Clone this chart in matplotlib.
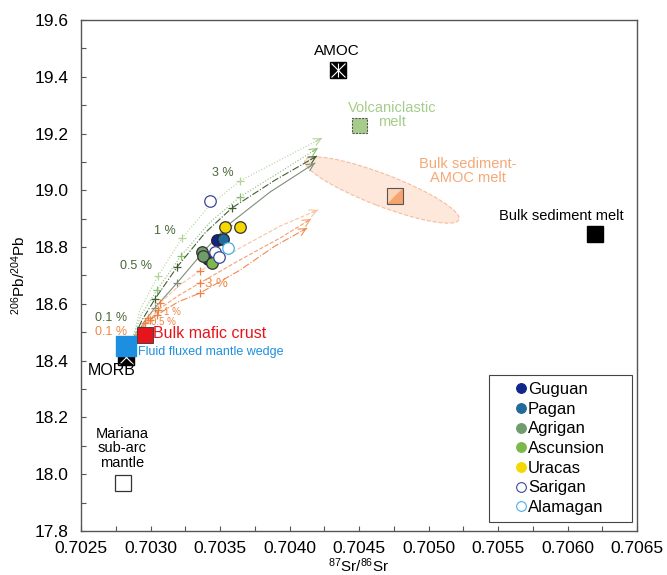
import matplotlib
matplotlib.use('Agg')
import matplotlib.pyplot as plt
import matplotlib.transforms as mtransforms
from matplotlib.patches import Ellipse, Rectangle, Polygon
from matplotlib.lines import Line2D

plt.rcParams['font.family'] = ['Liberation Sans', 'DejaVu Sans']
plt.rcParams['mathtext.fontset'] = 'custom'
plt.rcParams['mathtext.rm'] = 'Liberation Sans'
plt.rcParams['mathtext.it'] = 'Liberation Sans:italic'

# ---- island samples: 87Sr/86Sr and 206Pb/204Pb ----
island_names = ['Guguan', 'Pagan', 'Agrigan', 'Ascunsion', 'Uracas', 'Sarigan', 'Alamagan']
island_sr = [
    [0.703481, 0.703416],
    [0.703524],
    [0.703373, 0.703375],
    [0.703442],
    [0.703538, 0.703645],
    [0.703428, 0.703464, 0.703495],
    [0.703560],
]
island_pb = [
    [18.825, 18.757],
    [18.827],
    [18.784, 18.769],
    [18.745],
    [18.872, 18.872],
    [18.962, 18.782, 18.766],
    [18.798],
]
island_face = ['#10268c', '#236a9c', '#6f9c6a', '#7cb84a', '#f6d800', 'white', 'white']
island_edge = ['#222222', '#222222', '#333333', '#333333', '#333333', '#3a4898', '#48b0e2']

# ---- end-members ----
amoc = (0.704349, 19.424)
volc_melt = (0.704507, 19.227)
sed_amoc_melt = (0.704759, 18.980)
sed_melt = (0.706198, 18.846)
mafic_crust = (0.702957, 18.490)
mantle_wedge = (0.702827, 18.450)
morb = (0.702824, 18.413)
subarc_mantle = (0.702799, 17.969)

# ---- mixing curves (+ marks at 0.5, 1, 3 %) ----
green_sr = [
    [0.702874, 0.702924, 0.703054, 0.703227, 0.703428, 0.703644, 0.703932, 0.704234],
    [0.702874, 0.702932, 0.703047, 0.703219, 0.703428, 0.703644, 0.703932, 0.704205],
    [0.702881, 0.702939, 0.703032, 0.703191, 0.703392, 0.703586, 0.703896, 0.704198],
    [0.702888, 0.702953, 0.703032, 0.703191, 0.703392, 0.703558, 0.703860, 0.704183],
]
green_pb = [
    [18.480, 18.579, 18.698, 18.832, 18.948, 19.033, 19.107, 19.184],
    [18.480, 18.561, 18.649, 18.769, 18.888, 18.977, 19.065, 19.149],
    [18.480, 18.543, 18.617, 18.730, 18.850, 18.938, 19.036, 19.121],
    [18.480, 18.536, 18.586, 18.674, 18.790, 18.878, 18.994, 19.096],
]
green_colors = ['#b3d49b', '#8cbd72', '#3f5f32', '#7d8f7a']
green_styles = [':', ':', '-.', '-']
green_marks = [2, 3, 5]

orange_sr = [
    [0.702888, 0.702982, 0.703068, 0.703212, 0.703356, 0.703644, 0.703932, 0.704205],
    [0.702888, 0.702996, 0.703054, 0.703198, 0.703356, 0.703644, 0.703932, 0.704155],
    [0.702896, 0.702960, 0.703047, 0.703198, 0.703356, 0.703644, 0.703896, 0.704126],
]
orange_pb = [
    [18.490, 18.550, 18.603, 18.667, 18.716, 18.797, 18.874, 18.931],
    [18.487, 18.543, 18.579, 18.628, 18.674, 18.755, 18.832, 18.899],
    [18.483, 18.533, 18.561, 18.607, 18.638, 18.719, 18.804, 18.867],
]
orange_colors = ['#f9c3a0', '#f4a070', '#f08a50']
orange_styles = ['--', '--', '-.']
orange_marks = [1, 2, 4]

x_ticks = [0.7025, 0.7030, 0.7035, 0.7040, 0.7045, 0.7050, 0.7055, 0.7060, 0.7065]
y_ticks = [17.8, 18.0, 18.2, 18.4, 18.6, 18.8, 19.0, 19.2, 19.4, 19.6]

fig = plt.figure(figsize=(6.67, 5.75), dpi=100)
ax = fig.add_axes([81 / 667, 1 - 531 / 575, 556 / 667, 511 / 575])
ax.set_xlim(0.7025, 0.7065)
ax.set_ylim(17.8, 19.6)


def pt_transform(x, y):
    # shape sized in points, anchored on a data position
    return mtransforms.Affine2D().scale(fig.dpi / 72) + mtransforms.ScaledTranslation(x, y, ax.transData)


# mixing curves
for sr, pb, c, ls in zip(green_sr, green_pb, green_colors, green_styles):
    ax.plot(sr, pb, color=c, ls=ls, lw=0.8, marker='+', markevery=green_marks,
            ms=6, mew=0.9, zorder=2)
    x0 = sr[-2] + 0.85 * (sr[-1] - sr[-2])
    y0 = pb[-2] + 0.85 * (pb[-1] - pb[-2])
    ax.annotate('', xy=(sr[-1], pb[-1]), xytext=(x0, y0),
                arrowprops=dict(arrowstyle='->', color=c, lw=0.8, mutation_scale=13,
                                shrinkA=0, shrinkB=0), zorder=2)
for sr, pb, c, ls in zip(orange_sr, orange_pb, orange_colors, orange_styles):
    ax.plot(sr, pb, color=c, ls=ls, lw=0.8, marker='+', markevery=orange_marks,
            ms=6, mew=0.9, mec='#f07f40', zorder=2)
    x0 = sr[-2] + 0.85 * (sr[-1] - sr[-2])
    y0 = pb[-2] + 0.85 * (pb[-1] - pb[-2])
    ax.annotate('', xy=(sr[-1], pb[-1]), xytext=(x0, y0),
                arrowprops=dict(arrowstyle='->', color=c, lw=0.8, mutation_scale=13,
                                shrinkA=0, shrinkB=0), zorder=2)

# percent labels
green_txt = '#4a6638'
orange_txt = '#ef8646'
ax.text(0.702716, 18.550, '0.1 %', color=green_txt, fontsize=9, ha='center', va='center')
ax.text(0.702896, 18.733, '0.5 %', color=green_txt, fontsize=9, ha='center', va='center')
ax.text(0.703104, 18.857, '1 %', color=green_txt, fontsize=9, ha='center', va='center')
ax.text(0.703522, 19.061, '3 %', color=green_txt, fontsize=9, ha='center', va='center')
ax.text(0.702716, 18.501, '0.1 %', color=orange_txt, fontsize=9, ha='center', va='center')
ax.text(0.703090, 18.536, '0.5 %', color=orange_txt, fontsize=7, ha='center', va='center')
ax.text(0.703155, 18.571, '1 %', color=orange_txt, fontsize=7, ha='center', va='center')
ax.text(0.703471, 18.670, '3 %', color=orange_txt, fontsize=9.5, ha='center', va='center')

# bulk sediment - AMOC melt field
ax.add_patch(Ellipse((0, 0), 165 * 0.72, 32 * 0.72, angle=-21,
                     transform=pt_transform(0.704665, 19.001),
                     fc='#fde3d3', ec='#f4b08a', ls='--', lw=0.8, alpha=0.8, zorder=1))

# end-member symbols
ax.plot(*amoc, 's', ms=12, color='black', zorder=4)
ax.plot(*amoc, 'x', ms=10, mec='white', mew=0.8, zorder=5)
ax.plot(*amoc, '|', ms=10, mec='white', mew=0.8, zorder=5)

ax.add_patch(Rectangle((-5.4, -5.4), 10.8, 10.8, transform=pt_transform(*volc_melt),
                       fc='#a6cc8a', ec='#555555', ls=(0, (2, 1)), lw=0.8, zorder=4))

s = 5.8
ax.add_patch(Rectangle((-s, -s), 2 * s, 2 * s, transform=pt_transform(*sed_amoc_melt),
                       fc='#fcd2b4', ec='none', zorder=4))
ax.add_patch(Polygon([(-s, -s), (s, -s), (s, s)], closed=True,
                     transform=pt_transform(*sed_amoc_melt), fc='#f5a46e', ec='none', zorder=4))
ax.add_patch(Rectangle((-s, -s), 2 * s, 2 * s, transform=pt_transform(*sed_amoc_melt),
                       fc='none', ec='#555555', lw=0.8, zorder=5))

ax.plot(*sed_melt, 's', ms=12, color='black', zorder=4)

ax.plot(*morb, 's', ms=12, color='black', zorder=3)
ax.plot(*morb, 'x', ms=10, mec='white', mew=0.8, zorder=3)
ax.plot(*mantle_wedge, 's', ms=14, mfc='#1d8fe1', mec='#1d8fe1', zorder=4)
ax.plot(*mafic_crust, 's', ms=11.5, mfc='#e8141c', mec='#333333', mew=0.6, zorder=5)
ax.plot(*subarc_mantle, 's', ms=12, mfc='white', mec='#333333', mew=0.9, zorder=4)

# end-member labels
ax.text(0.704342, 19.491, 'AMOC', fontsize=11, ha='center', va='center')
ax.text(0.704737, 19.265, 'Volcaniclastic\nmelt', fontsize=10.5, color='#a6cc8a',
        ha='center', va='center', linespacing=1.0)
ax.text(0.705284, 19.068, 'Bulk sediment-\nAMOC melt', fontsize=10.5, color='#f4a878',
        ha='center', va='center', linespacing=1.05)
ax.text(0.705953, 18.910, 'Bulk sediment melt', fontsize=10.5, ha='center', va='center')
ax.text(0.703018, 18.494, 'Bulk mafic crust', fontsize=11.5, color='#e8141c', ha='left', va='center')
ax.text(0.702910, 18.431, 'Fluid fluxed mantle wedge', fontsize=9, color='#1d8fe1',
        ha='left', va='center')
ax.text(0.702723, 18.364, 'MORB', fontsize=11.5, ha='center', va='center')
ax.text(0.702795, 18.092, 'Mariana\nsub-arc\nmantle', fontsize=10.5, ha='center', va='center',
        linespacing=1.05)

# island samples
for name, sr, pb, fc, ec in zip(island_names, island_sr, island_pb, island_face, island_edge):
    ax.plot(sr, pb, 'o', ms=8.3, mfc=fc, mec=ec, mew=0.9, ls='none', zorder=6)

# legend in its own box
handles = [Line2D([], [], marker='o', ls='none', ms=7, mfc=fc, mec=(fc if fc != 'white' else ec),
                  mew=0.8) for fc, ec in zip(island_face, island_edge)]
ax.add_patch(Rectangle((0.734, 0.0176), 0.257, 0.2877, transform=ax.transAxes,
                       fc='white', ec='#444444', lw=0.8, zorder=7))
leg = ax.legend(handles, island_names, loc='center', bbox_to_anchor=(0.8624, 0.1614),
                frameon=False, fontsize=12, handlelength=0.6, handletextpad=0.12,
                labelspacing=0.28, borderpad=0.2)
leg.set_zorder(8)

# axes styling
ax.set_xticks(x_ticks)
ax.set_xticklabels(['%.4f' % v for v in x_ticks])
ax.set_yticks(y_ticks)
ax.set_yticklabels(['%.1f' % v for v in y_ticks])
ax.set_xticks([v + 0.00025 for v in x_ticks[:-1]], minor=True)
ax.set_yticks([v + 0.1 for v in y_ticks[:-1]], minor=True)
ax.tick_params(which='both', direction='in', length=3.5, width=0.8, color='#555555')
ax.tick_params(axis='x', which='major', labelsize=12.5, pad=7)
ax.tick_params(axis='y', which='major', labelsize=12.5, pad=9)
for sp in ax.spines.values():
    sp.set_color('#555555')
    sp.set_linewidth(1.0)

ax.set_xlabel(r'$^{87}$Sr/$^{86}$Sr', fontsize=11, labelpad=0.5)
ax.set_ylabel(r'$^{206}$Pb/$^{204}$Pb', fontsize=11, labelpad=5)

fig.savefig('out.png', dpi=100)
